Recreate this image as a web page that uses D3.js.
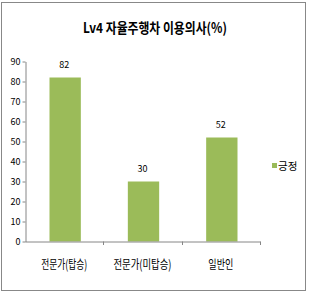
<!DOCTYPE html>
<html><head><meta charset="utf-8">
<script src="https://cdn.jsdelivr.net/npm/d3@7"></script>
<style>body{margin:0;background:#fff}svg{display:block}</style>
</head><body>
<script>
const categories = ["전문가(탑승)", "전문가(미탑승)", "일반인"];
const values = [82, 30, 52];
const yTicks = [0,10,20,30,40,50,60,70,80,90];
const seriesName = "긍정";
const title = "Lv4 자율주행차 이용의사(%)";

const W = 310, H = 295;
const svg = d3.select("body").append("svg").attr("width", W).attr("height", H);
const font = "'Noto Sans CJK KR', 'Noto Sans', sans-serif";

svg.append("rect").attr("x", 1.5).attr("y", 2.5).attr("width", 304).attr("height", 288)
  .attr("fill", "#fff").attr("stroke", "#888").attr("stroke-width", 1);

svg.append("text").attr("x", 155).attr("y", 33).attr("text-anchor", "middle")
  .attr("font-family", font).attr("font-weight", "bold").attr("font-size", 14)
  .attr("textLength", 144).attr("lengthAdjust", "spacingAndGlyphs")
  .text(title);

const x = d3.scaleBand().domain(categories).range([26, 261]).paddingInner(0.6).paddingOuter(0.3);
const xb = d3.scaleBand().domain(categories).range([25, 260]);
const y = d3.scaleLinear().domain([0, 90]).range([241.5, 61.5]);

const g = svg.append("g");
g.selectAll("rect.bar").data(values).join("rect").attr("class","bar")
  .attr("x", (d,i)=>x(categories[i])).attr("width", x.bandwidth())
  .attr("y", d=>y(d)).attr("height", d=>y(0)-y(d)).attr("fill", "#9BBB59");

g.selectAll("text.val").data(values).join("text").attr("class","val")
  .attr("x", (d,i)=>x(categories[i]) + x.bandwidth()/2 - 1).attr("y", d=>y(d)-10)
  .attr("text-anchor","middle").attr("font-family", font).attr("font-size", 9).attr("fill","#000")
  .text(d=>d);

const yAxis = svg.append("g").attr("transform","translate(25.5,0)")
  .call(d3.axisLeft(y).tickValues(yTicks).tickSize(3).tickSizeOuter(0));
yAxis.select(".domain").attr("stroke","#868686");
yAxis.selectAll(".tick line").attr("stroke","#868686");
yAxis.selectAll(".tick text").attr("font-family", font).attr("font-size", 9).attr("fill","#000").attr("x",-5);

const labelWidths = [46, 58, 25];
const xAxis = svg.append("g").attr("transform","translate(0,241.5)")
  .call(d3.axisBottom(xb).tickSize(0).tickSizeOuter(0));
xAxis.select(".domain").attr("stroke","#868686");
xAxis.selectAll(".tick text").attr("font-family", font).attr("font-size", 12.5).attr("fill","#000")
  .attr("dy", 0).attr("y", 27.5)
  .attr("textLength", (d,i)=>labelWidths[i]).attr("lengthAdjust","spacingAndGlyphs");
svg.append("g").selectAll("line").data([1,2,3]).join("line")
  .attr("x1", d=> Math.round(25 + xb.step()*d) + 0.5)
  .attr("x2", d=> Math.round(25 + xb.step()*d) + 0.5)
  .attr("y1", 241.5).attr("y2", 245).attr("stroke", "#868686");

svg.append("rect").attr("x", 272).attr("y", 163).attr("width", 5).attr("height", 5).attr("fill","#9BBB59");
svg.append("text").attr("x", 278).attr("y", 169.5).attr("font-family", font).attr("font-size", 10.5).attr("fill","#000").text(seriesName);
</script>
</body></html>
